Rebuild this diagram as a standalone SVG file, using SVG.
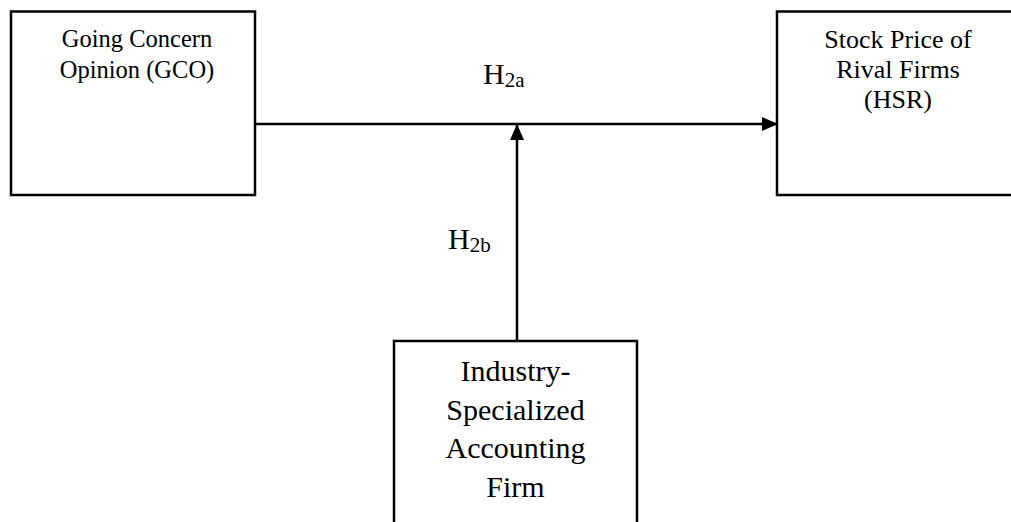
<svg xmlns="http://www.w3.org/2000/svg" width="1011" height="522" viewBox="0 0 1011 522">
<style>
.box{fill:#fff;stroke:#000;stroke-width:2.5}
.t{font-family:"Liberation Serif","Times New Roman",serif;fill:#000;text-anchor:middle}
.s{font-size:24.5px}
.r{font-size:26px}
.b{font-size:30px}
.h{font-family:"Liberation Serif","Times New Roman",serif;fill:#000;font-size:30px}
.sub{font-size:21px}
.line{stroke:#000;stroke-width:2.5;fill:none}
</style>
<defs>
<marker id="arr" markerWidth="16" markerHeight="14" refX="15" refY="7" orient="auto" markerUnits="userSpaceOnUse">
<path d="M0,0 L16,7 L0,14 Z" fill="#000"/>
</marker>
</defs>
<rect width="1011" height="522" fill="#fff"/>
<g id="connectors">
<line class="line" x1="255" y1="124" x2="777" y2="124" marker-end="url(#arr)"/>
<line class="line" x1="517" y1="341" x2="517" y2="125" marker-end="url(#arr)"/>
</g>
<g id="gco">
<rect class="box" x="11" y="11.5" width="244" height="183.5"/>
<text class="t s" x="137" y="47">Going Concern</text>
<text class="t s" x="137" y="78">Opinion (GCO)</text>
</g>
<g id="hsr">
<rect class="box" x="777" y="11.5" width="250" height="183.5"/>
<text class="t r" x="898" y="47.5">Stock Price of</text>
<text class="t r" x="898" y="78">Rival Firms</text>
<text class="t r" x="898" y="108">(HSR)</text>
</g>
<g id="firm">
<rect class="box" x="394" y="341" width="243" height="200"/>
<text class="t b" x="515.5" y="381">Industry-</text>
<text class="t b" x="515.5" y="419.5">Specialized</text>
<text class="t b" x="515.5" y="458">Accounting</text>
<text class="t b" x="515.5" y="497">Firm</text>
</g>
<g id="labels">
<text class="h" x="483" y="83.5">H<tspan class="sub" dy="3.5">2a</tspan></text>
<text class="h" x="448" y="248.5">H<tspan class="sub" dy="3">2b</tspan></text>
</g>
</svg>
